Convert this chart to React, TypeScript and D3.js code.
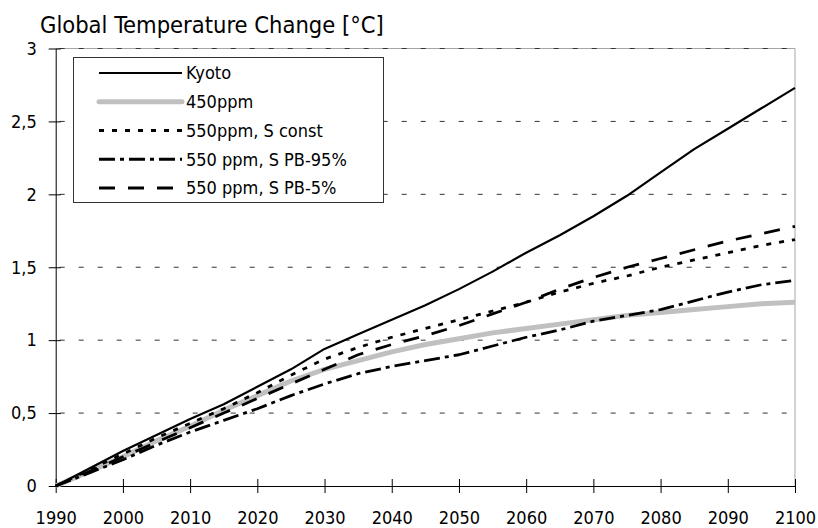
import React, { useRef, useEffect } from "react";
import * as d3 from "d3";

const years = [1990, 1995, 2000, 2005, 2010, 2015, 2020, 2025, 2030, 2035, 2040, 2045,
  2050, 2055, 2060, 2065, 2070, 2075, 2080, 2085, 2090, 2095, 2100];

const kyoto = [0, 0.12, 0.24, 0.35, 0.46, 0.56, 0.68, 0.8, 0.94, 1.04, 1.14, 1.24,
  1.35, 1.47, 1.6, 1.72, 1.85, 1.99, 2.15, 2.31, 2.45, 2.59, 2.73];
const ppm450 = [0, 0.1, 0.2, 0.31, 0.41, 0.52, 0.62, 0.72, 0.8, 0.86, 0.92, 0.97,
  1.01, 1.05, 1.08, 1.11, 1.14, 1.17, 1.19, 1.21, 1.23, 1.25, 1.26];
const ppm550Const = [0, 0.11, 0.22, 0.33, 0.43, 0.53, 0.64, 0.76, 0.87, 0.95, 1.02, 1.08,
  1.14, 1.2, 1.26, 1.33, 1.39, 1.44, 1.5, 1.55, 1.6, 1.65, 1.69];
const ppm550PB95 = [0, 0.09, 0.18, 0.28, 0.37, 0.45, 0.53, 0.62, 0.7, 0.77, 0.82, 0.86,
  0.9, 0.96, 1.02, 1.07, 1.13, 1.17, 1.21, 1.27, 1.33, 1.38, 1.41];
const ppm550PB5 = [0, 0.1, 0.2, 0.3, 0.4, 0.5, 0.6, 0.7, 0.8, 0.9, 0.97, 1.03,
  1.1, 1.18, 1.26, 1.35, 1.43, 1.5, 1.56, 1.62, 1.68, 1.73, 1.78];

const xTicks = [1990, 2000, 2010, 2020, 2030, 2040, 2050, 2060, 2070, 2080, 2090, 2100];
const yTicks = [0, 0.5, 1, 1.5, 2, 2.5, 3];
const yTickLabels = ["0", "0,5", "1", "1,5", "2", "2,5", "3"];

const seriesNames = ["Kyoto", "450ppm", "550ppm, S const", "550 ppm, S PB-95%", "550 ppm, S PB-5%"];
const seriesValues = [kyoto, ppm450, ppm550Const, ppm550PB95, ppm550PB5];

const FONT = "'DejaVu Sans Condensed', 'DejaVu Sans', sans-serif";

const App = () => {
  const plot = useRef(null);
  const width = 818;
  const height = 528;

  useEffect(() => {
    const svg = d3.select(plot.current);
    svg.selectAll("*").remove();

    const left = 55.7, right = 795, top = 48.5, bottom = 486;

    const xScale = d3.scaleLinear().domain([1990, 2100]).range([left, right]);
    const yScale = d3.scaleLinear().domain([0, 3]).range([bottom, top]);

    // plot area border (top/right)
    svg.append("path")
      .attr("d", `M${left},${top}H${right}V${bottom}`)
      .attr("fill", "none")
      .attr("stroke", "#a6a6a6")
      .attr("stroke-width", 1);

    // dashed gridlines
    svg.append("g")
      .selectAll("line")
      .data(yTicks.filter(d => d > 0))
      .join("line")
      .attr("x1", left + 4)
      .attr("x2", right - 4)
      .attr("y1", d => yScale(d))
      .attr("y2", d => yScale(d))
      .attr("stroke", "#333")
      .attr("stroke-width", 1)
      .attr("stroke-dasharray", "5,14");

    // y axis
    const yAxis = d3.axisLeft(yScale)
      .tickValues(yTicks)
      .tickFormat((d, i) => yTickLabels[i])
      .tickSizeInner(7)
      .tickSizeOuter(0)
      .tickPadding(12);
    svg.append("g")
      .attr("transform", `translate(${left}, 0)`)
      .call(yAxis)
      .call(g => g.select(".domain").attr("stroke", "#000"))
      .call(g => g.selectAll(".tick line").attr("x1", 5).attr("stroke", "#000"))
      .call(g => g.selectAll(".tick text")
        .attr("font-family", FONT)
        .attr("font-size", 18)
        .attr("fill", "#000"));

    // x axis
    const xAxis = d3.axisBottom(xScale)
      .tickValues(xTicks)
      .tickFormat(d3.format("d"))
      .tickSizeInner(7)
      .tickSizeOuter(0)
      .tickPadding(18);
    svg.append("g")
      .attr("transform", `translate(0, ${bottom})`)
      .call(xAxis)
      .call(g => g.select(".domain").attr("stroke", "#000"))
      .call(g => g.selectAll(".tick line").attr("y1", -7).attr("stroke", "#000"))
      .call(g => g.selectAll(".tick text")
        .attr("font-family", FONT)
        .attr("font-size", 18)
        .attr("fill", "#000"));

    const styles = [
      { stroke: "#000", width: 2.2, dash: null },
      { stroke: "#c0c0c0", width: 5, dash: null },
      { stroke: "#000", width: 2.8, dash: "5,8" },
      { stroke: "#000", width: 2.8, dash: "16,5,4,5" },
      { stroke: "#000", width: 2.8, dash: "16,13" },
    ];

    const line = d3.line()
      .x(d => xScale(d[0]))
      .y(d => yScale(d[1]))
      .curve(d3.curveLinear);

    const drawOrder = [1, 0, 2, 4, 3];
    drawOrder.forEach(i => {
      const s = styles[i];
      svg.append("path")
        .attr("fill", "none")
        .attr("stroke", s.stroke)
        .attr("stroke-width", s.width)
        .attr("stroke-dasharray", s.dash)
        .attr("stroke-linejoin", "round")
        .attr("d", line(years.map((y, j) => [y, seriesValues[i][j]])));
    });

    // legend
    const legend = svg.append("g");
    legend.append("rect")
      .attr("x", 73.5)
      .attr("y", 57.5)
      .attr("width", 310)
      .attr("height", 145)
      .attr("fill", "#fff")
      .attr("stroke", "#333")
      .attr("stroke-width", 1);
    const rowY = d3.scaleLinear().domain([0, 4]).range([73, 188]);
    seriesNames.forEach((name, i) => {
      const s = styles[i];
      legend.append("line")
        .attr("x1", 99)
        .attr("x2", 182)
        .attr("y1", rowY(i))
        .attr("y2", rowY(i))
        .attr("stroke", s.stroke)
        .attr("stroke-width", s.width)
        .attr("stroke-dasharray", s.dash)
        .attr("stroke-linecap", i === 1 ? "round" : "butt");
      legend.append("text")
        .attr("x", 186)
        .attr("y", rowY(i))
        .attr("dy", "0.35em")
        .attr("font-family", FONT)
        .attr("font-size", 18)
        .attr("fill", "#000")
        .text(name);
    });

    // title
    svg.append("text")
      .attr("x", 40)
      .attr("y", 33)
      .attr("font-family", FONT)
      .attr("font-size", 23.5)
      .attr("fill", "#000")
      .text("Global Temperature Change [°C]");
  });

  return (
    <svg ref={plot} width={width} height={height}
      style={{ position: "absolute", left: 0, top: 0, background: "#fff" }} />
  );
};

export default App;
